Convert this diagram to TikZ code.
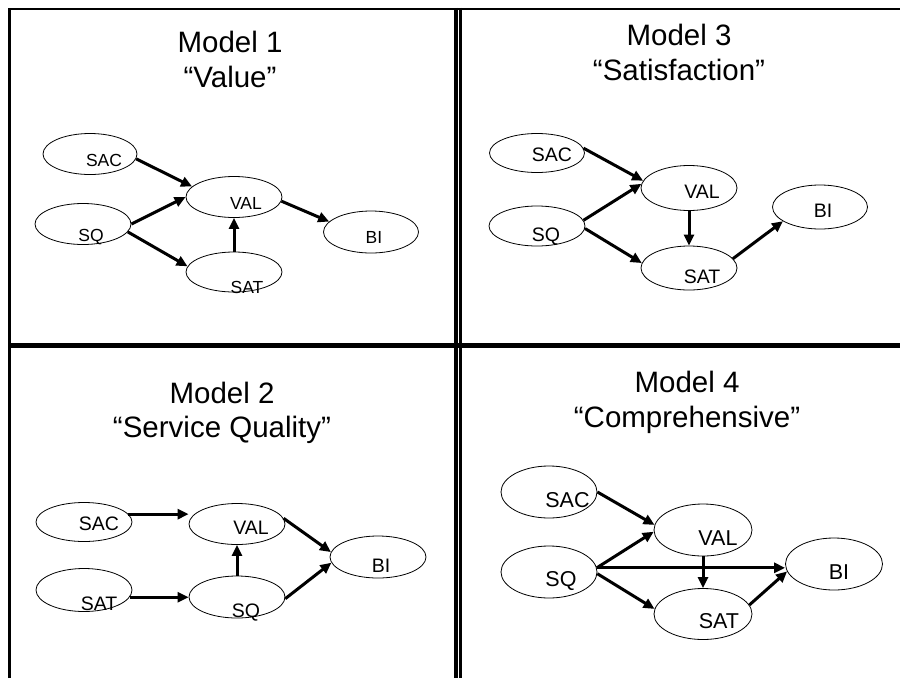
\documentclass[tikz,border=0pt]{standalone}
\usepackage{fontspec}
\setmainfont{Liberation Sans}
\usetikzlibrary{shapes.geometric,arrows.meta}
\begin{document}
\begin{tikzpicture}[x=1pt,y=-1pt,
  ell/.style={ellipse,draw,line width=0.8pt,inner sep=0pt},
  lbl/.style={anchor=base,inner sep=0pt},
  lblA/.style={lbl,font=\fontsize{17.5}{18}\selectfont},
  lblB/.style={lbl,font=\fontsize{19.5}{20}\selectfont},
  lblC/.style={lbl,font=\fontsize{19.5}{20}\selectfont},
  lblD/.style={lbl,font=\fontsize{21.5}{22}\selectfont},
  ttl/.style={anchor=base,inner sep=0pt,font=\fontsize{29.5}{30}\selectfont},
  arr/.style={line width=3pt,-{Triangle[length=11pt,width=10pt]}}]
\useasboundingbox (0,0) rectangle (900,678);

% frame
\draw[line width=3pt] (9.5,678) -- (9.5,7.75);
\draw[line width=2.5pt] (8,9) -- (900,9);
\draw[line width=5pt] (8,345.5) -- (900,345.5);
\draw[line width=4pt] (456,7.75) -- (456,678);
\draw[line width=3pt] (460.5,7.75) -- (460.5,678);

% ---------- Model 1 ----------
\node[ttl] (t1a) at (230,52) {Model 1};
\node[ttl] (t1b) at (230,87) {“Value”};
\node[ell,minimum width=94pt,minimum height=41pt] (a1sac) at (90,154) {};
\node[ell,minimum width=96pt,minimum height=41pt] (a1sq) at (83,224) {};
\node[ell,minimum width=96pt,minimum height=41pt] (a1val) at (234,197) {};
\node[ell,minimum width=96pt,minimum height=40pt] (a1sat) at (234,272) {};
\node[ell,minimum width=95pt,minimum height=42pt] (a1bi) at (371,232) {};
\node[lblA] (l1sac) at (104,166) {SAC};
\node[lblA] (l1sq) at (91,241) {SQ};
\node[lblA] (l1val) at (246,209) {VAL};
\node[lblA] (l1sat) at (247,293) {SAT};
\node[lblA] (l1bi) at (374,243) {BI};
\draw[arr] (a1sac.-6) -- (a1val.166);
\draw[arr] (a1sq.0) -- (a1val.180);
\draw[arr] (a1sq.-10) -- (a1sat.173);
\draw[arr] (a1sat.north) -- (a1val.south);
\draw[arr] (a1val.-5) -- (a1bi.166);

% ---------- Model 3 ----------
\node[ttl] (t3a) at (679,45) {Model 3};
\node[ttl] (t3b) at (679,80) {“Satisfaction”};
\node[ell,minimum width=95pt,minimum height=39pt] (c3sac) at (537,153) {};
\node[ell,minimum width=96pt,minimum height=40pt] (c3sq) at (537,226) {};
\node[ell,minimum width=96pt,minimum height=45pt] (c3val) at (689,188) {};
\node[ell,minimum width=96pt,minimum height=44pt] (c3sat) at (689,268) {};
\node[ell,minimum width=95pt,minimum height=44pt] (c3bi) at (820,207) {};
\node[lblC] (l3sac) at (552,161) {SAC};
\node[lblC] (l3sq) at (546,241) {SQ};
\node[lblC] (l3val) at (702,198) {VAL};
\node[lblC] (l3sat) at (702,283) {SAT};
\node[lblC] (l3bi) at (823,217) {BI};
\draw[arr] (c3sac.6) -- (c3val.171);
\draw[arr] (c3sq.7) -- (c3val.175);
\draw[arr] (c3sq.-3) -- (c3sat.174);
\draw[arr] (c3val.south) -- (c3sat.north);
\draw[arr] (c3sat.12) -- (c3bi.201);

% ---------- Model 2 ----------
\node[ttl] (t2a) at (222,403) {Model 2};
\node[ttl] (t2b) at (222,437) {“Service Quality”};
\node[ell,minimum width=96pt,minimum height=39pt] (b2sac) at (84,522) {};
\node[ell,minimum width=96pt,minimum height=43pt] (b2sat) at (84,590) {};
\node[ell,minimum width=96pt,minimum height=41pt] (b2val) at (237,524) {};
\node[ell,minimum width=96pt,minimum height=42pt] (b2sq) at (237,597) {};
\node[ell,minimum width=96pt,minimum height=42pt] (b2bi) at (378,557) {};
\node[lblB] (l2sac) at (99,530) {SAC};
\node[lblB] (l2sat) at (99,610) {SAT};
\node[lblB] (l2val) at (251,534) {VAL};
\node[lblB] (l2sq) at (246,617) {SQ};
\node[lblB] (l2bi) at (381,572) {BI};
\draw[arr] (b2sac.10) -- (b2sac.10 -| b2val.west);
\draw[arr] (b2sat.-9) -- (b2sat.-9 -| b2sq.west);
\draw[arr] (b2sq.north) -- (b2val.south);
\draw[arr] (b2val.7) -- (b2bi.174);
\draw[arr] (b2sq.-2) -- (b2bi.187);

% ---------- Model 4 ----------
\node[ttl] (t4a) at (687,392) {Model 4};
\node[ttl] (t4b) at (687,427) {“Comprehensive”};
\node[ell,minimum width=96pt,minimum height=52pt] (d4sac) at (549,492) {};
\node[ell,minimum width=96pt,minimum height=52pt] (d4sq) at (549,572) {};
\node[ell,minimum width=98pt,minimum height=52pt] (d4val) at (703,530) {};
\node[ell,minimum width=98pt,minimum height=51pt] (d4sat) at (703,614) {};
\node[ell,minimum width=97pt,minimum height=52pt] (d4bi) at (834,564) {};
\node[lblD] (l4sac) at (567.5,507) {SAC};
\node[lblD] (l4sq) at (561,586) {SQ};
\node[lblD] (l4val) at (718,545) {VAL};
\node[lblD] (l4sat) at (719,628) {SAT};
\node[lblD] (l4bi) at (839,579) {BI};
\draw[arr] (d4sac.east) -- (d4val.174);
\draw[arr] (d4sq.5) -- (d4val.182);
\draw[arr] (d4sq.5) -- (d4sq.5 -| d4bi.west);
\draw[arr] (d4sq.-2) -- (d4sat.174);
\draw[arr] (d4val.south) -- (d4sat.north);
\draw[arr] (d4sat.11) -- (d4bi.189);
\end{tikzpicture}
\end{document}
